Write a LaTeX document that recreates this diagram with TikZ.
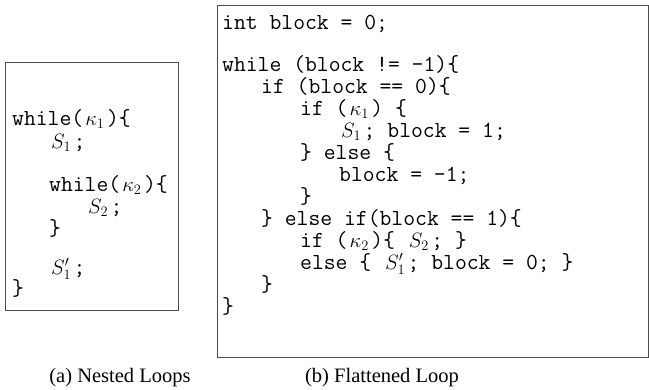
\documentclass[tikz,border=0pt]{standalone}
\usepackage{amsmath,amssymb}
\usepackage{fontspec}
\setmainfont{Liberation Serif}
\usepackage{tikz}

\newcommand{\mth}[1]{\kern2pt{\fontsize{21}{22}\selectfont$#1$}\kern2.5pt}

\tikzset{
	codeline/.style={anchor=base west,inner sep=0pt,text height=14pt,text depth=4pt,
		font=\ttfamily\fontsize{23}{22}\selectfont},
	caption/.style={anchor=base,inner sep=0pt,font=\fontsize{20.5}{24}\selectfont},
	listbox/.style={draw=black!70,line width=.8pt}
}

\begin{document}
\begin{tikzpicture}[x=1pt,y=-1pt]
		\useasboundingbox (0,0) rectangle (649,389);
		%%%%%%%%%%%%%%%%%%%%%%%%%%%%%%%%% nested loops
		\draw[listbox] (5,62) rectangle (178,310);
		\node[codeline] (na1) at (12,125){while(\mth{\kappa_1})\{};
		\node[codeline] (na2) at (49,148){\mth{S_1};};
		\node[codeline] (na3) at (49,191){while(\mth{\kappa_2})\{};
		\node[codeline] (na4) at (86,213){\mth{S_2};};
		\node[codeline] (na5) at (49,235){\}};
		\node[codeline] (na6) at (49,274){\mth{S'_1};};
		\node[codeline] (na7) at (12,295){\}};
		\node[caption] (capa) at (120,382){(a) Nested Loops};
		%%%%%%%%%%%%%%%%%%%%%%%%%%%%%%%%% flattened loop
		\draw[listbox] (217,5) rectangle (648,357);
		\node[codeline] (fl0) at (222,29.5){int block = 0;};
		\node[codeline] (fl2) at (222,71.5){while (block != -1)\{};
		\node[codeline] (fl3) at (261,93.5){if (block == 0)\{};
		\node[codeline] (fl4) at (300,115.5){if (\mth{\kappa_1}) \{};
		\node[codeline] (fl5) at (339,137.5){\mth{S_1}; block = 1;};
		\node[codeline] (fl6) at (300,159.5){\} else \{};
		\node[codeline] (fl7) at (339,181.5){block = -1;};
		\node[codeline] (fl8) at (300,203.5){\}};
		\node[codeline] (fl9) at (261,225.5){\} else if(block == 1)\{};
		\node[codeline] (fl10) at (300,247.5){if (\mth{\kappa_2})\{ \mth{S_2}; \}};
		\node[codeline] (fl11) at (300,269.5){else \{ \mth{S'_1}; block = 0; \}};
		\node[codeline] (fl12) at (261,291.5){\}};
		\node[codeline] (fl13) at (222,313.5){\}};
		\node[caption] (capb) at (382,382){(b) Flattened Loop};
	\end{tikzpicture}
\end{document}
